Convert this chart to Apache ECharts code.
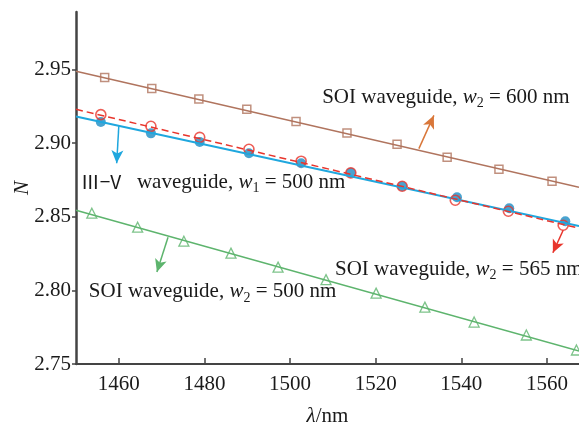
<!DOCTYPE html>
<html>
  <head>
    <meta charset="utf-8" />
    <title>Effective index vs wavelength</title>
    <script src="https://cdn.jsdelivr.net/npm/echarts@6/dist/echarts.min.js"></script>
    <style>
      body { margin: 0; padding: 0; background: #fff; }
      #main { width: 579px; height: 424px; }
    </style>
  </head>
  <body>
    <div id="main"></div>
    <script type="text/javascript">
      // x range of the fitted lines (left axis edge to right image edge)
      var lineX = [1450, 1567.5];

      // SOI waveguide, w2 = 600 nm (brown squares)
      var brownX = [1456.7, 1467.7, 1478.7, 1489.9, 1501.4, 1513.3, 1525.0, 1536.7, 1548.8, 1561.2];
      var brownN = [2.9446, 2.9371, 2.9300, 2.9229, 2.9147, 2.9069, 2.8992, 2.8903, 2.8822, 2.8741];
      var brownLine = [2.9488, 2.8700];

      // SOI waveguide, w2 = 565 nm (red circles, dashed)
      var redX = [1455.8, 1467.5, 1478.9, 1490.4, 1502.6, 1514.2, 1526.2, 1538.6, 1551.0, 1563.8];
      var redN = [2.9193, 2.9114, 2.9039, 2.8958, 2.8877, 2.8798, 2.8707, 2.8612, 2.8537, 2.8442];
      var redLine = [2.9229, 2.8422];

      // III-V waveguide, w1 = 500 nm (blue dots)
      var blueX = [1455.8, 1467.5, 1478.9, 1490.4, 1502.6, 1514.2, 1526.2, 1539.0, 1551.2, 1564.3];
      var blueN = [2.9143, 2.9066, 2.9008, 2.8931, 2.8863, 2.8798, 2.8707, 2.8632, 2.8558, 2.8469];
      var blueLine = [2.9181, 2.8436];

      // SOI waveguide, w2 = 500 nm (green triangles)
      var greenX = [1453.7, 1464.4, 1475.2, 1486.2, 1497.2, 1508.4, 1520.1, 1531.5, 1543.0, 1555.2, 1566.9];
      var greenN = [2.8524, 2.8429, 2.8334, 2.8253, 2.8158, 2.8073, 2.7981, 2.7886, 2.7785, 2.7697, 2.7595];
      var greenLine = [2.8544, 2.7588];

      // annotation texts: [lambda at left of text, N at text middle]
      var textBrown = [1507.5, 2.931];
      var textBlue = [1451.1, 2.8734];
      var textRed = [1510.5, 2.8145];
      var textGreen = [1453.0, 2.7990];

      // arrows: [from, to] in data space
      var arrowBrown = [[1530.1, 2.8962], [1533.6, 2.9188]];
      var arrowBlue = [[1460.0, 2.9115], [1459.5, 2.8863]];
      var arrowRed = [[1563.8, 2.8408], [1561.4, 2.8255]];
      var arrowGreen = [[1471.5, 2.8361], [1468.9, 2.8124]];

      var FONT = '"Liberation Serif", "Times New Roman", serif';
      var C_BROWN = "#b0745e";
      var C_RED = "#e8352c";
      var C_BLUE = "#1fa7de";
      var C_DOT = "#1b8cc4";
      var C_GREEN = "#5db46d";

      function pairs(xs, ys) {
        return xs.map(function (x, i) {
          return [x, ys[i]];
        });
      }

      var richText = {
        t: { fontFamily: FONT, fontSize: 21, color: "#1a1a1a", lineHeight: 26 },
        i: { fontFamily: FONT, fontSize: 21, fontStyle: "italic", color: "#1a1a1a", lineHeight: 26 },
        s: { fontFamily: FONT, fontSize: 14, color: "#1a1a1a", lineHeight: 11, verticalAlign: "bottom" },
        r: { fontFamily: '"Noto Sans CJK SC", "DejaVu Serif", serif', fontSize: 19, color: "#1a1a1a", lineHeight: 26 }
      };

      function note(coord, str) {
        return {
          symbol: "circle",
          symbolSize: 0,
          itemStyle: { color: "rgba(0,0,0,0)" },
          data: [{ coord: coord }],
          label: {
            show: true,
            position: "right",
            distance: 0,
            formatter: str,
            rich: richText
          }
        };
      }

      function arrow(a, color) {
        return {
          silent: true,
          symbol: ["none", "arrow"],
          symbolSize: [9, 13],
          lineStyle: { color: color, width: 1.5, type: "solid" },
          label: { show: false },
          emphasis: { disabled: true },
          data: [[{ coord: a[0] }, { coord: a[1] }]]
        };
      }

      var myChart = echarts.init(document.getElementById("main"));

      var option = {
        animation: false,
        backgroundColor: "#fff",
        grid: { left: 76, right: 0, top: 12, bottom: 60, outerBoundsMode: "none" },
        xAxis: {
          type: "value",
          min: 1450,
          max: 1567.5,
          splitNumber: 6,
          name: "{i|λ}/nm",
          nameLocation: "middle",
          nameGap: 42,
          nameTextStyle: {
            fontFamily: FONT,
            fontSize: 21,
            color: "#1a1a1a",
            rich: {
              i: { fontFamily: FONT, fontSize: 21, fontStyle: "italic", color: "#1a1a1a" }
            }
          },
          axisLine: { lineStyle: { color: "#444", width: 2 } },
          axisTick: { inside: true, length: 6, lineStyle: { color: "#444", width: 1.5 } },
          axisLabel: {
            fontFamily: FONT,
            fontSize: 21,
            color: "#1a1a1a",
            margin: 10,
            showMinLabel: false,
            showMaxLabel: false,
            formatter: function (v) {
              return String(v);
            }
          },
          splitLine: { show: false }
        },
        yAxis: {
          type: "value",
          min: 2.75,
          max: 2.989,
          interval: 0.05,
          name: "N",
          nameLocation: "middle",
          nameGap: 43,
          nameMoveOverlap: false,
          nameTextStyle: { fontFamily: FONT, fontSize: 21, fontStyle: "italic", color: "#1a1a1a" },
          axisLine: { show: true, lineStyle: { color: "#444", width: 2.5 } },
          axisTick: { show: true, inside: false, length: 4, lineStyle: { color: "#444", width: 1.5 } },
          axisLabel: {
            fontFamily: FONT,
            fontSize: 21,
            color: "#1a1a1a",
            margin: 5,
            showMaxLabel: false,
            formatter: function (v) {
              return v.toFixed(2);
            }
          },
          splitLine: { show: false }
        },
        series: [
          {
            name: "600 line",
            type: "line",
            data: pairs(lineX, brownLine),
            showSymbol: false,
            lineStyle: { color: C_BROWN, width: 1.5 },
            markLine: arrow(arrowBrown, "#d9773a"),
            markPoint: note(textBrown, "{t|SOI waveguide, }{i|w}{s|2}{t| = 600 nm}")
          },
          {
            name: "600",
            type: "scatter",
            data: pairs(brownX, brownN),
            symbol: "rect",
            symbolSize: 8,
            itemStyle: { color: "#fff", borderColor: C_BROWN, borderWidth: 1.5 }
          },
          {
            name: "500 SOI line",
            type: "line",
            data: pairs(lineX, greenLine),
            showSymbol: false,
            lineStyle: { color: C_GREEN, width: 1.5 },
            markLine: arrow(arrowGreen, C_GREEN),
            markPoint: note(textGreen, "{t|SOI waveguide, }{i|w}{s|2}{t| = 500 nm}")
          },
          {
            name: "500 SOI",
            type: "scatter",
            data: pairs(greenX, greenN),
            symbol: "triangle",
            symbolSize: 10,
            itemStyle: { color: "#fff", borderColor: C_GREEN, borderWidth: 1.3 }
          },
          {
            name: "III-V line",
            type: "line",
            data: pairs(lineX, blueLine),
            showSymbol: false,
            lineStyle: { color: C_BLUE, width: 2 },
            markLine: arrow(arrowBlue, C_BLUE),
            markPoint: note(textBlue, "{r|Ⅲ−V}{t|   waveguide, }{i|w}{s|1}{t| = 500 nm}")
          },
          {
            name: "III-V",
            type: "scatter",
            data: pairs(blueX, blueN),
            symbol: "circle",
            symbolSize: 10,
            itemStyle: { color: C_DOT }
          },
          {
            name: "565 line",
            type: "line",
            data: pairs(lineX, redLine),
            showSymbol: false,
            lineStyle: { color: C_RED, width: 1.5, type: [7, 4] },
            markLine: arrow(arrowRed, C_RED),
            markPoint: note(textRed, "{t|SOI waveguide, }{i|w}{s|2}{t| = 565 nm}")
          },
          {
            name: "565",
            type: "scatter",
            data: pairs(redX, redN),
            symbol: "circle",
            symbolSize: 10,
            itemStyle: { color: "rgba(255,255,255,0)", borderColor: C_RED, borderWidth: 1.6 }
          }
        ]
      };

      myChart.setOption(option);
    </script>
  </body>
</html>
